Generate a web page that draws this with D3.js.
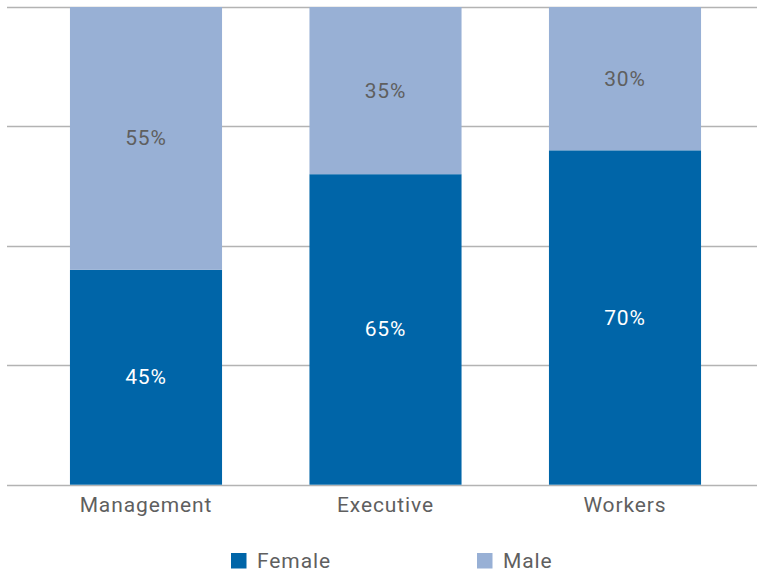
<!DOCTYPE html>
<html>
<head>
<meta charset="utf-8">
<script src="https://cdn.jsdelivr.net/npm/d3@7"></script>
<style>
  body { margin: 0; background: #fff; }
  text { font-family: Roboto, "Open Sans", sans-serif; letter-spacing: 0.9px; }
</style>
</head>
<body>
<div id="chart"></div>
<script>
const width = 757;
const height = 572;

const categories = ["Management", "Executive", "Workers"];
const female = [45, 65, 70];
const male = [55, 35, 30];
const seriesNames = ["Female", "Male"];
const yTicks = [0, 25, 50, 75, 100];

const colors = {Female: "#0065a8", Male: "#98b0d5"};
const labelColors = {Female: "#ffffff", Male: "#5f5f5f"};

const svg = d3.select('#chart')
    .append('svg')
    .attr('width', width)
    .attr('height', height);

const x = d3.scaleBand()
    .domain(categories)
    .range([26.25, 744.75])
    .paddingInner(0.365)
    .paddingOuter(0.1825);

const y = d3.scaleLinear()
    .domain([0, 100])
    .range([484.7, 7]);

// gridlines
svg.append('g')
    .selectAll('line')
    .data(yTicks)
    .enter().append('line')
    .attr('x1', 7)
    .attr('x2', width)
    .attr('y1', d => Math.round(y(d)) + 0.5)
    .attr('y2', d => Math.round(y(d)) + 0.5)
    .attr('stroke', '#b3b3b3')
    .attr('stroke-width', 1.3);

// stack the two series
const rows = categories.map((c, i) => ({category: c, Female: female[i], Male: male[i]}));
const stacked = d3.stack().keys(seriesNames)(rows);

const layer = svg.selectAll('.layer')
    .data(stacked)
    .enter().append('g')
    .attr('class', 'layer');

layer.selectAll('rect')
    .data(d => d.map(p => ({key: d.key, p: p})))
    .enter().append('rect')
    .attr('x', d => x(d.p.data.category))
    .attr('width', x.bandwidth())
    .attr('y', d => y(d.p[1]))
    .attr('height', d => y(d.p[0]) - y(d.p[1]))
    .attr('fill', d => colors[d.key]);

layer.selectAll('text')
    .data(d => d.map(p => ({key: d.key, p: p})))
    .enter().append('text')
    .attr('x', d => x(d.p.data.category) + x.bandwidth() / 2)
    .attr('y', d => (y(d.p[0]) + y(d.p[1])) / 2)
    .attr('text-anchor', 'middle')
    .attr('dominant-baseline', 'central')
    .attr('font-size', 21)
    .attr('fill', d => labelColors[d.key])
    .text(d => (d.p[1] - d.p[0]) + '%');

// category labels
svg.append('g')
    .selectAll('text')
    .data(categories)
    .enter().append('text')
    .attr('x', d => x(d) + x.bandwidth() / 2)
    .attr('y', 512)
    .attr('text-anchor', 'middle')
    .attr('font-size', 21)
    .attr('fill', '#5f5f5f')
    .text(d => d);

// legend
const legendX = [231, 477];
const legend = svg.append('g')
    .selectAll('g')
    .data(seriesNames)
    .enter().append('g')
    .attr('transform', (d, i) => `translate(${legendX[i]}, 553)`);

legend.append('rect')
    .attr('width', 15.5)
    .attr('height', 15.5)
    .attr('fill', d => colors[d]);

legend.append('text')
    .attr('x', 26)
    .attr('y', 15)
    .attr('font-size', 21)
    .attr('fill', '#5f5f5f')
    .text(d => d);
</script>
</body>
</html>
